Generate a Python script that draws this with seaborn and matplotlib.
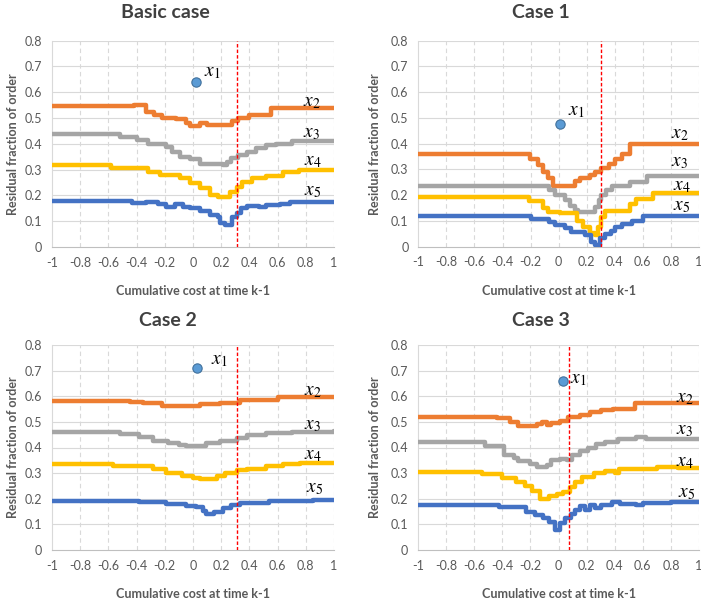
import matplotlib
matplotlib.use("Agg")
import matplotlib.pyplot as plt
import seaborn as sns
import pandas as pd
from matplotlib.ticker import FixedLocator, FixedFormatter

# ---------------- data ----------------
titles = ["Basic case", "Case 1", "Case 2", "Case 3"]
series_names = ["x2", "x3", "x4", "x5"]
xtick_vals = [-1, -0.8, -0.6, -0.4, -0.2, 0, 0.2, 0.4, 0.6, 0.8, 1]
xtick_labels = ["-1", "-0.8", "-0.6", "-0.4", "-0.2", "0", "0.2", "0.4", "0.6", "0.8", "1"]
ytick_vals = [0, 0.1, 0.2, 0.3, 0.4, 0.5, 0.6, 0.7, 0.8]
ytick_labels = ["0", "0.1", "0.2", "0.3", "0.4", "0.5", "0.6", "0.7", "0.8"]

# Basic case
b2x = [-1, -0.42, -0.33, -0.28, -0.22, -0.12, -0.05, -0.02, 0.05, 0.10, 0.28, 0.32, 0.40, 0.55, 1]
b2y = [0.545, 0.55, 0.525, 0.51, 0.50, 0.495, 0.48, 0.47, 0.48, 0.475, 0.49, 0.50, 0.51, 0.54, 0.54]
b3x = [-1, -0.52, -0.40, -0.32, -0.19, -0.15, -0.095, -0.02, 0.05, 0.21, 0.24, 0.27, 0.32, 0.38, 0.45, 0.52, 0.59, 0.70, 1]
b3y = [0.44, 0.427, 0.414, 0.40, 0.388, 0.37, 0.35, 0.343, 0.322, 0.317, 0.33, 0.345, 0.355, 0.37, 0.385, 0.395, 0.40, 0.41, 0.41]
b4x = [-1, -0.58, -0.32, -0.235, -0.095, -0.02, 0.05, 0.12, 0.175, 0.26, 0.31, 0.35, 0.42, 0.52, 0.635, 0.755, 1]
b4y = [0.318, 0.305, 0.292, 0.279, 0.266, 0.247, 0.228, 0.202, 0.195, 0.215, 0.234, 0.253, 0.266, 0.275, 0.29, 0.30, 0.30]
b5x = [-1, -0.43, -0.33, -0.25, -0.19, -0.13, -0.07, -0.02, 0.05, 0.12, 0.175, 0.19, 0.225, 0.28, 0.31, 0.34, 0.38, 0.47, 0.52, 0.62, 0.69, 1]
b5y = [0.18, 0.172, 0.176, 0.168, 0.155, 0.165, 0.155, 0.15, 0.14, 0.125, 0.115, 0.092, 0.085, 0.117, 0.13, 0.15, 0.16, 0.155, 0.163, 0.168, 0.175, 0.175]

# Case 1
c2x = [-1, -0.204, -0.147, -0.11, -0.076, -0.04, 0.117, 0.15, 0.223, 0.26, 0.30, 0.36, 0.40, 0.45, 0.51, 1]
c2y = [0.36, 0.34, 0.318, 0.292, 0.267, 0.237, 0.254, 0.267, 0.28, 0.29, 0.305, 0.32, 0.34, 0.36, 0.40, 0.40]
c3x = [-1, -0.07, -0.025, 0.045, 0.08, 0.117, 0.14, 0.26, 0.285, 0.30, 0.335, 0.38, 0.51, 0.63, 1]
c3y = [0.236, 0.22, 0.20, 0.18, 0.16, 0.142, 0.135, 0.155, 0.18, 0.20, 0.22, 0.236, 0.25, 0.275, 0.275]
c4x = [-1, -0.21, -0.11, -0.076, 0.01, 0.13, 0.17, 0.22, 0.26, 0.28, 0.30, 0.33, 0.51, 0.55, 0.67, 1]
c4y = [0.193, 0.178, 0.15, 0.135, 0.13, 0.10, 0.075, 0.055, 0.045, 0.075, 0.115, 0.138, 0.165, 0.185, 0.21, 0.21]
c5x = [-1, -0.2, -0.07, -0.025, 0.045, 0.09, 0.19, 0.23, 0.26, 0.295, 0.33, 0.37, 0.40, 0.45, 0.52, 0.60, 1]
c5y = [0.12, 0.106, 0.097, 0.086, 0.072, 0.058, 0.045, 0.02, 0.006, 0.032, 0.05, 0.062, 0.075, 0.09, 0.10, 0.12, 0.12]

# Case 2
k2x = [-1, -0.45, -0.355, -0.22, -0.12, 0.05, 0.19, 0.33, 0.6, 1]
k2y = [0.582, 0.578, 0.572, 0.562, 0.56, 0.57, 0.575, 0.585, 0.597, 0.597]
k3x = [-1, -0.52, -0.38, -0.285, -0.18, -0.1, -0.05, 0.09, 0.19, 0.31, 0.38, 0.52, 0.7, 1]
k3y = [0.462, 0.451, 0.44, 0.427, 0.418, 0.41, 0.405, 0.416, 0.425, 0.438, 0.448, 0.455, 0.462, 0.466]
k4x = [-1, -0.57, -0.285, -0.19, -0.08, 0.0, 0.05, 0.17, 0.23, 0.31, 0.38, 0.52, 0.64, 0.76, 1]
k4y = [0.334, 0.328, 0.315, 0.302, 0.29, 0.28, 0.278, 0.29, 0.302, 0.312, 0.318, 0.326, 0.334, 0.34, 0.34]
k5x = [-1, -0.38, -0.19, -0.05, 0.02, 0.07, 0.09, 0.15, 0.21, 0.27, 0.33, 0.54, 0.85, 1]
k5y = [0.19, 0.186, 0.18, 0.173, 0.166, 0.152, 0.14, 0.15, 0.162, 0.174, 0.185, 0.19, 0.195, 0.195]

# Case 3
m2x = [-1, -0.44, -0.345, -0.29, -0.155, -0.12, -0.08, -0.05, 0.01, 0.07, 0.155, 0.225, 0.30, 0.39, 0.545, 1]
m2y = [0.52, 0.514, 0.50, 0.483, 0.49, 0.50, 0.488, 0.494, 0.503, 0.52, 0.526, 0.537, 0.546, 0.552, 0.573, 0.573]
m3x = [-1, -0.52, -0.39, -0.32, -0.29, -0.205, -0.155, -0.08, -0.05, 0.01, 0.06, 0.095, 0.155, 0.21, 0.27, 0.33, 0.42, 0.55, 0.62, 1]
m3y = [0.42, 0.404, 0.372, 0.36, 0.346, 0.335, 0.323, 0.333, 0.35, 0.357, 0.35, 0.372, 0.385, 0.398, 0.414, 0.422, 0.435, 0.44, 0.435, 0.435]
m4x = [-1, -0.545, -0.40, -0.305, -0.235, -0.19, -0.13, -0.07, -0.01, 0.035, 0.085, 0.12, 0.17, 0.25, 0.33, 0.40, 0.43, 0.7, 0.85, 1]
m4y = [0.303, 0.295, 0.28, 0.265, 0.25, 0.23, 0.20, 0.21, 0.218, 0.227, 0.245, 0.265, 0.285, 0.30, 0.31, 0.30, 0.315, 0.325, 0.32, 0.32]
m5x = [-1, -0.42, -0.23, -0.17, -0.11, -0.07, -0.025, 0.01, 0.045, 0.09, 0.12, 0.155, 0.19, 0.225, 0.26, 0.30, 0.38, 0.44, 0.55, 0.6, 0.8, 1]
m5y = [0.175, 0.167, 0.15, 0.135, 0.125, 0.11, 0.08, 0.105, 0.125, 0.14, 0.155, 0.17, 0.158, 0.176, 0.165, 0.175, 0.187, 0.18, 0.175, 0.185, 0.188, 0.188]

# x1 single points and the vertical threshold line
x1_x = [0.02, 0.01, 0.03, 0.03]
x1_y = [0.64, 0.475, 0.71, 0.66]
vline_x = [0.31, 0.305, 0.31, 0.075]

series_x = [[b2x, b3x, b4x, b5x], [c2x, c3x, c4x, c5x], [k2x, k3x, k4x, k5x], [m2x, m3x, m4x, m5x]]
series_y = [[b2y, b3y, b4y, b5y], [c2y, c3y, c4y, c5y], [k2y, k3y, k4y, k5y], [m2y, m3y, m4y, m5y]]

# ---------------- style ----------------
colors = ["#ED7D31", "#A5A5A5", "#FFC000", "#4472C4"]
label_texts = [r"$x_1$", r"$x_2$", r"$x_3$", r"$x_4$", r"$x_5$"]
label_pos = [
    [(0.08, 0.675), (0.78, 0.56), (0.78, 0.44), (0.79, 0.33), (0.79, 0.215)],
    [(0.068, 0.524), (0.80, 0.434), (0.80, 0.326), (0.815, 0.233), (0.815, 0.155)],
    [(0.125, 0.741), (0.79, 0.62), (0.79, 0.484), (0.79, 0.368), (0.80, 0.24)],
    [(0.084, 0.666), (0.834, 0.592), (0.834, 0.468), (0.834, 0.341), (0.85, 0.221)],
]
# axes boxes in pixels: x0, y0(top), x1, y1(bottom)
boxes = [(52, 40.7, 334, 247), (418.3, 40.7, 699, 246.7), (52, 345, 334, 550), (418, 345, 699, 550)]
title_pos = [(165, 13), (541, 13), (168, 320), (541, 320)]
ylabel_px = [19, 381, 19, 381]

sns.set_theme(style="white")
plt.rcParams["font.family"] = ["Lato", "DejaVu Sans"]
plt.rcParams["mathtext.fontset"] = "stix"

W, H = 701, 599
fig = plt.figure(figsize=(W / 100, H / 100), dpi=100)
tick_color = "#595959"

for i in range(4):
    x0, y0, x1, y1 = boxes[i]
    ax = fig.add_axes([x0 / W, 1 - y1 / H, (x1 - x0) / W, (y1 - y0) / H])
    ax.set_xlim(-1, 1)
    ax.set_ylim(0, 0.8)
    # grid
    for yv in ytick_vals[1:]:
        ax.axhline(yv, color="#d9d9d9", lw=0.8, zorder=0)
    for xv in xtick_vals[1:]:
        ax.axvline(xv, color="#d9d9d9", lw=0.8, ls=(0, (4, 3)), zorder=0)

    for j in range(4):
        df = pd.DataFrame({"x": series_x[i][j], "y": series_y[i][j]})
        sns.lineplot(data=df, x="x", y="y", ax=ax, color=colors[j], lw=3.2,
                     drawstyle="steps-post", estimator=None, sort=False, zorder=3)

    pt = pd.DataFrame({"x": [x1_x[i]], "y": [x1_y[i]]})
    sns.scatterplot(data=pt, x="x", y="y", ax=ax, s=45, color="#5B9BD5",
                    edgecolor="#41719C", linewidth=0.8, zorder=5)
    ax.axvline(vline_x[i], color="#FF0000", lw=1.0, ls=(0, (2.5, 1.5)), zorder=6)

    for (lx, ly), t in zip(label_pos[i], label_texts):
        ax.text(lx, ly, t, fontsize=14, ha="left", va="center", color="#000000")

    ax.xaxis.set_major_locator(FixedLocator(xtick_vals))
    ax.xaxis.set_major_formatter(FixedFormatter(xtick_labels))
    ax.yaxis.set_major_locator(FixedLocator(ytick_vals))
    ax.yaxis.set_major_formatter(FixedFormatter(ytick_labels))
    ax.tick_params(axis="both", labelsize=9, colors=tick_color, length=0, pad=7)
    for s in ["top", "right"]:
        ax.spines[s].set_visible(False)
    ax.spines["left"].set_color("#d9d9d9")
    ax.spines["left"].set_linewidth(0.8)
    ax.spines["bottom"].set_color("#bfbfbf")
    ax.spines["bottom"].set_linewidth(0.8)

    ax.set_xlabel("Cumulative cost at time k-1", fontsize=9, fontweight="bold", color=tick_color)
    ax.set_ylabel("Residual fraction of order", fontsize=9, fontweight="bold", color=tick_color)
    ax.xaxis.set_label_coords(0.5, -38 / (y1 - y0))
    ax.yaxis.set_label_coords(-(x0 - ylabel_px[i]) / (x1 - x0), 0.5)

    tx, ty = title_pos[i]
    fig.text(tx / W, 1 - ty / H, titles[i], fontsize=14, fontweight="bold",
             color="#404040", ha="center", va="center")

fig.savefig("out.png", dpi=100)
